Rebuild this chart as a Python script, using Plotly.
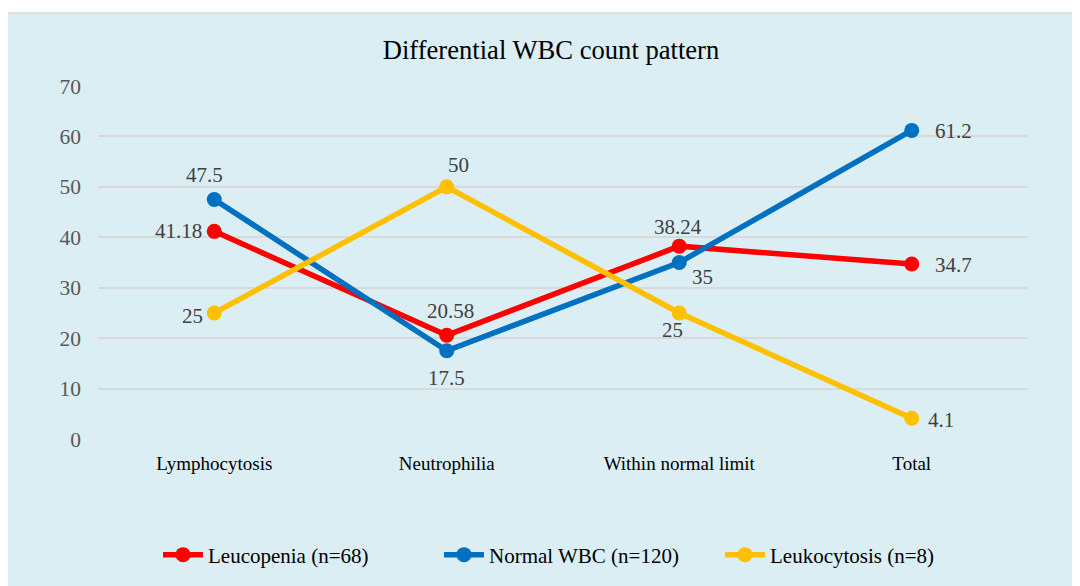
import plotly.graph_objects as go

categories = ["Lymphocytosis", "Neutrophilia", "Within normal limit", "Total"]
leucopenia = [41.18, 20.58, 38.24, 34.7]
normal_wbc = [47.5, 17.5, 35, 61.2]
leukocytosis = [25, 50, 25, 4.1]
leucopenia_labels = ["41.18", "20.58", "38.24", "34.7"]
normal_labels = ["47.5", "17.5", "35", "61.2"]
leuko_labels = ["25", "50", "25", "4.1"]
y_ticks = [0, 10, 20, 30, 40, 50, 60, 70]

FONT = "Liberation Serif, Times New Roman, Times, serif"
BG = "#DAEEF4"
OFF = 8  # page offset of the rendered figure

# label placement (style only): (xanchor, xshift px, yshift px)
leucopenia_pos = [("right", -10, 0), ("center", 4, 24), ("center", -1, 19), ("left", 21, -1)]
normal_pos = [("center", -10, 24), ("center", 0, -27), ("center", 23, -14), ("left", 21, -1)]
leuko_pos = [("right", -9, -3), ("center", 12, 22), ("center", -7, -17), ("left", 14, -2)]

fig = go.Figure()
annotations = []

def add(name, y, labels, color, positions):
    fig.add_trace(go.Scatter(
        x=categories, y=y, name=name, mode="lines+markers",
        line=dict(color=color, width=5.5),
        marker=dict(color=color, size=15),
        cliponaxis=False,
    ))
    for cat, val, lab, (xa, dx, dy) in zip(categories, y, labels, positions):
        annotations.append(dict(
            x=cat, y=val, xref="x", yref="y", text=lab, showarrow=False,
            xanchor=xa, yanchor="middle", xshift=dx, yshift=dy,
            font=dict(family=FONT, size=21, color="#404040"),
        ))

add("Leucopenia (n=68)", leucopenia, leucopenia_labels, "#FF0000", leucopenia_pos)
add("Normal WBC (n=120)", normal_wbc, normal_labels, "#0070C0", normal_pos)
add("Leukocytosis (n=8)", leukocytosis, leuko_labels, "#FFC000", leuko_pos)

W, H = 1080, 586
L, R, T = 98 - OFF, 1080 - (1028 - OFF), 86 - OFF
B = H - (439 - OFF)
pw, ph = W - L - R, H - T - B

def px(xp):
    return (xp - OFF - L) / pw

def py(yp):
    return (H - B - (yp - OFF)) / ph

fig.add_shape(type="rect", xref="paper", yref="paper",
              x0=px(7), x1=px(1100), y0=py(600), y1=py(13),
              fillcolor=BG, line=dict(color="#D9D9D9", width=1.5), layer="below")

fig.update_layout(
    width=W, height=H,
    margin=dict(l=L, r=R, t=T, b=B),
    paper_bgcolor="white",
    plot_bgcolor="rgba(0,0,0,0)",
    annotations=annotations,
    title=dict(text="Differential WBC count pattern", x=px(551), xref="paper",
               xanchor="center", y=1 - (50 - OFF) / H, yanchor="middle",
               font=dict(family=FONT, size=26.6, color="#000000")),
    font=dict(family=FONT),
    showlegend=True,
    legend=dict(orientation="h", x=px(163 - 5), xanchor="left", y=py(555), yanchor="middle",
                font=dict(family=FONT, size=21, color="#000000"),
                bgcolor="rgba(0,0,0,0)", itemwidth=40, tracegroupgap=0,
                entrywidth=226, entrywidthmode="pixels"),
    xaxis=dict(range=[-0.5, 3.5], showgrid=False, zeroline=False, showline=False,
               ticks="", tickfont=dict(family=FONT, size=19, color="#000000"),
               ticklabelstandoff=11),
    yaxis=dict(range=[0, 70], tickvals=y_ticks, showgrid=True, gridcolor="#D9D9D9",
               gridwidth=1.5, zeroline=False, showline=False, ticks="",
               tickfont=dict(family=FONT, size=21.5, color="#595959"),
               ticklabelstandoff=16),
)

fig.write_html("out.html")
